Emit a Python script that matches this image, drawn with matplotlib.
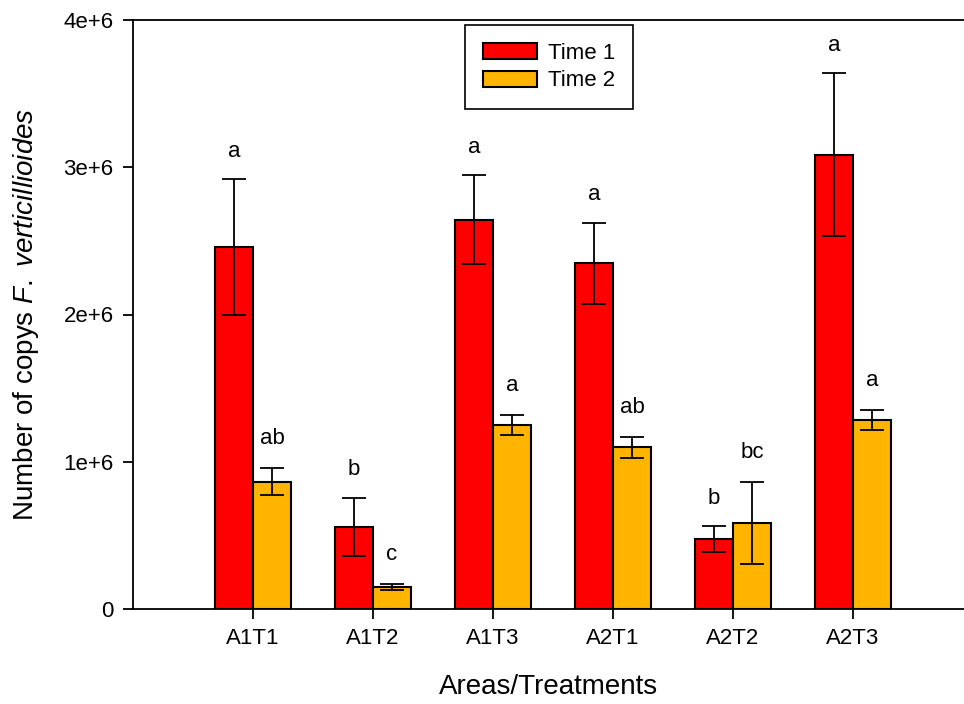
import numpy as np
import matplotlib
matplotlib.use("Agg")
import matplotlib.pyplot as plt
from matplotlib.ticker import FuncFormatter

plt.rcParams['font.family'] = ['Liberation Sans', 'DejaVu Sans']
plt.rcParams['mathtext.fontset'] = 'custom'
plt.rcParams['mathtext.rm'] = 'Liberation Sans'
plt.rcParams['mathtext.it'] = 'Liberation Sans:italic'

groups = ['A1T1', 'A1T2', 'A1T3', 'A2T1', 'A2T2', 'A2T3']
time1 = [2.46e6, 0.558e6, 2.645e6, 2.348e6, 0.475e6, 3.085e6]
time1_err = [0.46e6, 0.196e6, 0.30e6, 0.275e6, 0.088e6, 0.555e6]
time2 = [0.865e6, 0.151e6, 1.25e6, 1.098e6, 0.584e6, 1.283e6]
time2_err = [0.09e6, 0.02e6, 0.07e6, 0.071e6, 0.28e6, 0.07e6]
letters1 = ['a', 'b', 'a', 'a', 'b', 'a']
letters2 = ['ab', 'c', 'a', 'ab', 'bc', 'a']

fig = plt.figure(figsize=(9.64, 7.04), dpi=100)
ax = fig.add_axes([133/964, 95/704, 831/964, 589/704])

x = np.arange(len(groups))
w = 0.317
ekw = dict(ecolor='black', elinewidth=1.3, capsize=8.5, capthick=1.3)
ax.bar(x - w/2, time1, w, yerr=time1_err, color='#ff0000', edgecolor='black',
       linewidth=1.5, label='Time 1', error_kw=ekw)
ax.bar(x + w/2, time2, w, yerr=time2_err, color='#ffb400', edgecolor='black',
       linewidth=1.5, label='Time 2', error_kw=ekw)

# significance letters above error bars
for i in range(len(groups)):
    ax.text(x[i] - w/2, time1[i] + time1_err[i] + 0.19e6, letters1[i],
            ha='center', va='center', fontsize=16)
    ax.text(x[i] + w/2, time2[i] + time2_err[i] + 0.2e6, letters2[i],
            ha='center', va='center', fontsize=16)

ax.set_xlim(-1, 5.925)
ax.set_ylim(0, 4e6)
ax.set_xticks(x)
ax.set_xticklabels(groups)
ax.set_yticks([0, 1e6, 2e6, 3e6, 4e6])
ax.yaxis.set_major_formatter(FuncFormatter(lambda v, p: '0' if v == 0 else '%de+6' % round(v / 1e6)))
ax.tick_params(direction='out', length=7, width=1.3, labelsize=16, pad=7, color='black')
ax.spines['right'].set_visible(False)
for s in ['left', 'top', 'bottom']:
    ax.spines[s].set_linewidth(1.3)

ax.set_xlabel('Areas/Treatments', fontsize=20, labelpad=18)
ax.set_ylabel(r'Number of copys $F.\ verticillioides$', fontsize=20, labelpad=16)

leg = ax.legend(loc='upper left', bbox_to_anchor=(465/964, 1 - 25/704),
                bbox_transform=fig.transFigure, fontsize=16, frameon=True,
                fancybox=False, edgecolor='black', framealpha=1,
                handlelength=2.45, handleheight=0.72, labelspacing=0.3,
                borderpad=0.8, handletextpad=0.5, borderaxespad=0)
leg.get_frame().set_linewidth(1.2)

fig.savefig('out.png', dpi=100)
